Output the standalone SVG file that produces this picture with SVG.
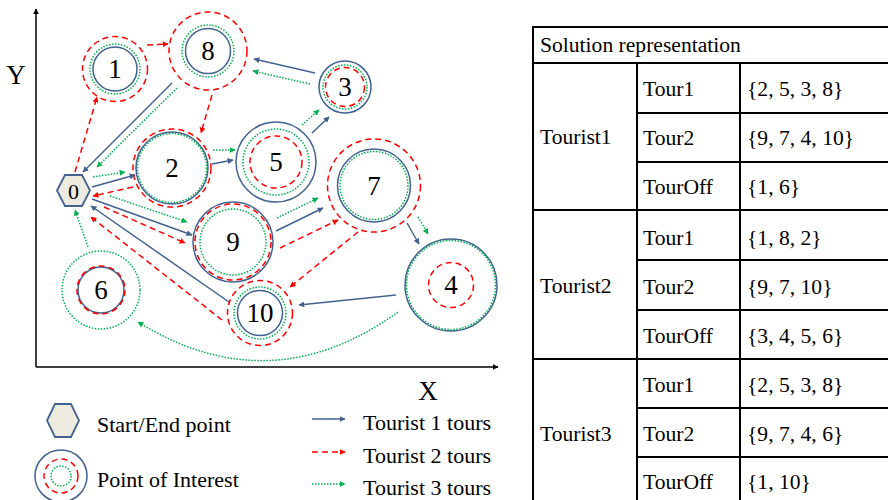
<svg xmlns="http://www.w3.org/2000/svg" width="888" height="500" viewBox="0 0 888 500">
<defs>
<marker id="ab" viewBox="0 0 10 10" refX="9" refY="5" markerWidth="6" markerHeight="6" orient="auto" markerUnits="userSpaceOnUse"><path d="M0,0 L10,5 L0,10 z" fill="#42628F"/></marker>
<marker id="ar" viewBox="0 0 10 10" refX="9" refY="5" markerWidth="6" markerHeight="6" orient="auto" markerUnits="userSpaceOnUse"><path d="M0,0 L10,5 L0,10 z" fill="#FF0000"/></marker>
<marker id="ag" viewBox="0 0 10 10" refX="9" refY="5" markerWidth="6" markerHeight="6" orient="auto" markerUnits="userSpaceOnUse"><path d="M0,0 L10,5 L0,10 z" fill="#00B050"/></marker>
<marker id="ak" viewBox="0 0 10 10" refX="9" refY="5" markerWidth="6" markerHeight="6" orient="auto" markerUnits="userSpaceOnUse"><path d="M0,0 L10,5 L0,10 z" fill="#000"/></marker>
</defs>
<style>
text{font-family:"Liberation Serif","Times New Roman",serif;fill:#000}
.lbl{font-size:27px;text-anchor:middle}
.ax{font-size:27px;text-anchor:middle}
.tb{font-size:21.6px}
.lg{font-size:22px}
.b{fill:none;stroke:#42628F;stroke-width:1.5}
.r{fill:none;stroke:#FF0000;stroke-width:1.5;stroke-dasharray:6,4}
.g{fill:none;stroke:#00B050;stroke-width:1.5;stroke-dasharray:1.5,1.5}
.hex{fill:#EDEBE0;stroke:#42628F;stroke-width:1.8}
.eb{stroke:#42628F;stroke-width:1.5;fill:none;marker-end:url(#ab)}
.er{stroke:#FF0000;stroke-width:1.5;fill:none;stroke-dasharray:6,4;marker-end:url(#ar)}
.eg{stroke:#00B050;stroke-width:1.5;fill:none;stroke-dasharray:1.5,1.5;marker-end:url(#ag)}
.grid{stroke:#000;stroke-width:2;fill:none}
</style>
<rect width="888" height="500" fill="#fff"/>
<g id="axes">
<line x1="36" y1="367" x2="36" y2="9" stroke="#000" stroke-width="1.5" marker-end="url(#ak)"/>
<line x1="36" y1="367" x2="498" y2="367" stroke="#000" stroke-width="1.5" marker-end="url(#ak)"/>
<text x="16" y="84" class="ax">Y</text>
<text x="428" y="400" class="ax">X</text>
</g>
<g id="connectors">
<line class="eb" x1="92" y1="187" x2="135" y2="175"/>
<line class="eb" x1="212" y1="164" x2="233" y2="160"/>
<line class="eb" x1="312" y1="133" x2="329" y2="117"/>
<line class="eb" x1="315" y1="73" x2="254" y2="59"/>
<line class="eb" x1="172" y1="83" x2="83" y2="172"/>
<line class="eb" x1="92" y1="199" x2="192" y2="235"/>
<line class="eb" x1="276" y1="231" x2="323" y2="208"/>
<line class="eb" x1="407" y1="223" x2="419" y2="244"/>
<line class="eb" x1="396" y1="295" x2="299" y2="305"/>
<line class="eb" x1="229" y1="302" x2="91" y2="206"/>
<line class="er" x1="75" y1="172" x2="97" y2="97"/>
<line class="er" x1="147" y1="45" x2="168" y2="44"/>
<line class="er" x1="212" y1="95" x2="201" y2="133"/>
<line class="er" x1="133" y1="187" x2="93" y2="196"/>
<line class="er" x1="104" y1="207" x2="185" y2="243"/>
<line class="er" x1="280" y1="248" x2="338" y2="220"/>
<line class="er" x1="358" y1="232" x2="290" y2="287"/>
<line class="er" x1="222" y1="320" x2="91" y2="217"/>
<line class="eg" x1="93" y1="177" x2="125" y2="172"/>
<line class="eg" x1="213" y1="150" x2="235" y2="150"/>
<line class="eg" x1="302" y1="125" x2="319" y2="110"/>
<line class="eg" x1="310" y1="84" x2="253" y2="71"/>
<line class="eg" x1="177" y1="88" x2="97" y2="167"/>
<line class="eg" x1="110" y1="196" x2="187" y2="222"/>
<line class="eg" x1="277" y1="218" x2="318" y2="198"/>
<line class="eg" x1="418" y1="217" x2="428" y2="234"/>
<path class="eg" d="M398,312 Q270,404 138,322"/>
<line class="eg" x1="88" y1="247" x2="75" y2="210"/>
</g>
<g id="node0"><polygon class="hex" points="57,190.5 65,175 82,175 90,190.5 82,206 65,206"/><text x="73.5" y="198.5" text-anchor="middle" font-size="22">0</text></g>
<g id="node1"><circle class="r" cx="115" cy="69" r="32.5"/><circle class="g" cx="115" cy="69" r="25"/><circle class="b" cx="115" cy="69" r="22"/><text x="115" y="78" class="lbl">1</text></g>
<g id="node8"><circle class="r" cx="208" cy="51" r="39"/><circle class="g" cx="208" cy="51" r="26"/><circle class="b" cx="208" cy="51" r="22.5"/><text x="208" y="60" class="lbl">8</text></g>
<g id="node3"><circle class="b" cx="345" cy="87" r="26"/><circle class="g" cx="345" cy="87" r="22"/><circle class="r" cx="345" cy="87" r="19.5"/><text x="345" y="96" class="lbl">3</text></g>
<g id="node2"><circle class="r" cx="172" cy="168" r="39"/><circle class="b" cx="172" cy="168" r="36"/><circle class="g" cx="172" cy="168" r="34.5"/><text x="172" y="177" class="lbl">2</text></g>
<g id="node5"><circle class="b" cx="276" cy="162" r="40"/><circle class="g" cx="276" cy="162" r="33"/><circle class="r" cx="276" cy="162" r="26"/><text x="276" y="171" class="lbl">5</text></g>
<g id="node7"><circle class="r" cx="374" cy="185.5" r="46.5"/><circle class="b" cx="374" cy="185.5" r="36.5"/><circle class="g" cx="374" cy="185.5" r="34"/><text x="374" y="194.5" class="lbl">7</text></g>
<g id="node9"><circle class="b" cx="233" cy="242" r="40"/><circle class="r" cx="233" cy="242" r="38"/><circle class="g" cx="233" cy="242" r="33"/><text x="233" y="251" class="lbl">9</text></g>
<g id="node4"><circle class="b" cx="451" cy="285" r="46"/><circle class="g" cx="451" cy="285" r="44.5"/><circle class="r" cx="451" cy="285" r="22.5"/><text x="451" y="294" class="lbl">4</text></g>
<g id="node10"><circle class="r" cx="260" cy="313" r="32.5"/><circle class="g" cx="260" cy="313" r="26"/><circle class="b" cx="260" cy="313" r="22.5"/><text x="260" y="322" class="lbl">10</text></g>
<g id="node6"><circle class="g" cx="101" cy="290" r="39"/><circle class="b" cx="101" cy="290" r="23"/><circle class="r" cx="101" cy="290" r="24"/><text x="101" y="299" class="lbl">6</text></g>
<g id="legend">
<polygon class="hex" points="47,420.5 55,404 71,404 79,420.5 71,437 55,437"/>
<text x="97" y="432" class="lg">Start/End point</text>
<circle class="b" cx="61" cy="476" r="26"/><circle class="r" cx="61" cy="476" r="17"/><circle class="g" cx="61" cy="476" r="10"/>
<text x="97" y="487" class="lg">Point of Interest</text>
<line class="eb" x1="312" y1="419" x2="345" y2="419"/>
<line class="er" x1="312" y1="452" x2="345" y2="452"/>
<line class="eg" x1="312" y1="484" x2="345" y2="484"/>
<text x="363" y="430" class="lg">Tourist 1 tours</text>
<text x="363" y="463" class="lg">Tourist 2 tours</text>
<text x="363" y="495" class="lg">Tourist 3 tours</text>
</g>
<g id="table">
<path class="grid" d="M533,27 H888 M533,63 H888 M637,113 H888 M637,162 H888 M533,210 H888 M637,260 H888 M637,310 H888 M533,359 H888 M637,408 H888 M637,457 H888 M533,26 V500 M637,63 V500 M740,63 V500"/>
<text x="540" y="52" class="tb">Solution representation</text>
<text x="540" y="144" class="tb">Tourist1</text>
<text x="540" y="293" class="tb">Tourist2</text>
<text x="540" y="441" class="tb">Tourist3</text>
<text x="643" y="96" class="tb">Tour1</text><text x="747" y="96" class="tb">{2, 5, 3, 8}</text>
<text x="643" y="145" class="tb">Tour2</text><text x="747" y="145" class="tb">{9, 7, 4, 10}</text>
<text x="643" y="194" class="tb">TourOff</text><text x="747" y="194" class="tb">{1, 6}</text>
<text x="643" y="245" class="tb">Tour1</text><text x="747" y="245" class="tb">{1, 8, 2}</text>
<text x="643" y="294" class="tb">Tour2</text><text x="747" y="294" class="tb">{9, 7, 10}</text>
<text x="643" y="343" class="tb">TourOff</text><text x="747" y="343" class="tb">{3, 4, 5, 6}</text>
<text x="643" y="392" class="tb">Tour1</text><text x="747" y="392" class="tb">{2, 5, 3, 8}</text>
<text x="643" y="441" class="tb">Tour2</text><text x="747" y="441" class="tb">{9, 7, 4, 6}</text>
<text x="643" y="489" class="tb">TourOff</text><text x="747" y="489" class="tb">{1, 10}</text>
</g>
</svg>
